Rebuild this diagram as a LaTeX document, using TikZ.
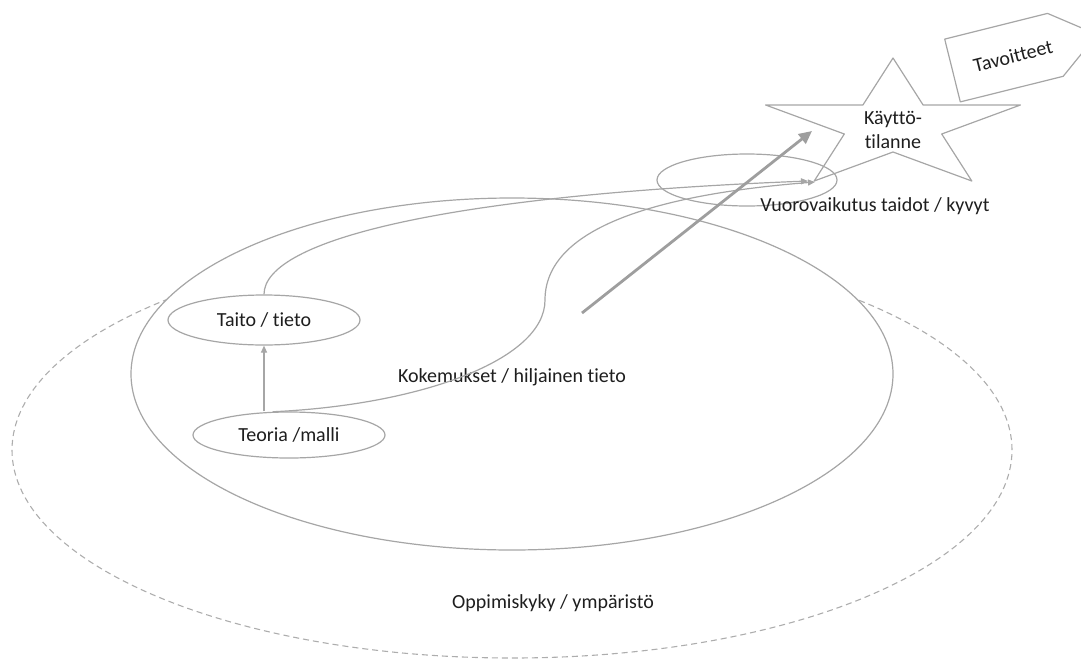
\documentclass[tikz,border=0pt]{standalone}
\usepackage{fontspec}
\setmainfont{Carlito}[Ligatures={NoCommon}]
\usetikzlibrary{shapes.geometric,arrows.meta}
\definecolor{linegray}{HTML}{A6A6A6}
\definecolor{dashgray}{HTML}{ADADAD}
\definecolor{arrowgray}{HTML}{9E9E9E}
\definecolor{txt}{HTML}{1E1E1E}
\begin{document}
\begin{tikzpicture}[x=1pt,y=-1pt,
  every node/.style={font=\fontsize{20}{24}\selectfont, text=txt},
  grayline/.style={draw=linegray, line width=1.2pt, line join=round},
  bubble/.style={ellipse, grayline, inner sep=0pt},
  flow/.style={grayline, -{Triangle[length=7pt,width=6pt]}},
  bigflow/.style={draw=arrowgray, line width=2.8pt, -{Triangle[length=13pt,width=12pt]}}]
  \useasboundingbox (0,0) rectangle (1081,659);

  % outer environment (dashed), partly hidden by the experience ellipse
  \node[ellipse, draw=dashgray, line width=1.1pt, dash pattern=on 6pt off 4pt,
        minimum width=1000pt, minimum height=416pt, inner sep=0pt] (outer) at (512,450) {};
  \node (envlabel) at (553,603) {Oppimiskyky / ympäristö};

  % experience / tacit knowledge
  \node[bubble, fill=white, minimum width=762pt, minimum height=352pt] (kok) at (512,374) {};
  \node (koklabel) at (512,377) {Kokemukset / hiljainen tieto};

  % theory and skill
  \node[bubble, minimum width=192pt, minimum height=50pt] (taito) at (264,320) {Taito / tieto};
  \node[bubble, minimum width=192pt, minimum height=46pt] (teoria) at (289,435) {Teoria /malli};

  % interaction skills
  \node[bubble, minimum width=180pt, minimum height=52pt] (vuoro) at (747,180) {};
  \node (vuorolabel) at (875,206) {Vuorovaikutus taidot / kyvyt};

  % situation of use (star)
  \draw[grayline] (893,58) -- (862.9,105) -- (765.6,105) -- (844.3,134) -- (814.2,181)
        -- (893,152) -- (971.8,181) -- (941.7,134) -- (1020.4,105) -- (923.1,105) -- cycle;
  \node[align=center] (use) at (893,130) {Käyttö-\\tilanne};

  % goals (pointed tag)
  \draw[grayline] (944.7,39.1) -- (1047.5,13.4) -- (1097.1,34.5) -- (1063.2,76.3)
        -- (960.3,101.9) -- cycle;
  \node[rotate=14] (goal) at (1013,56) {Tavoitteet};

  % connector end points
  \coordinate (aend) at (808,181);
  \coordinate (bend) at (815,182);
  \coordinate (thickstart) at (582,313);
  \coordinate (thickend) at (812,131);

  % connectors
  \draw[flow] (teoria.north -| taito.south) -- (taito.south);
  \draw[flow] (taito.north) .. controls +(0,-55) and (450,195) .. (aend);
  \draw[flow] (teoria.125) .. controls (420,405) and (545,360) .. (545,300)
        .. controls (545,230) and (650,195) .. (bend);
  \draw[bigflow] (thickstart) -- (thickend);
\end{tikzpicture}
\end{document}
